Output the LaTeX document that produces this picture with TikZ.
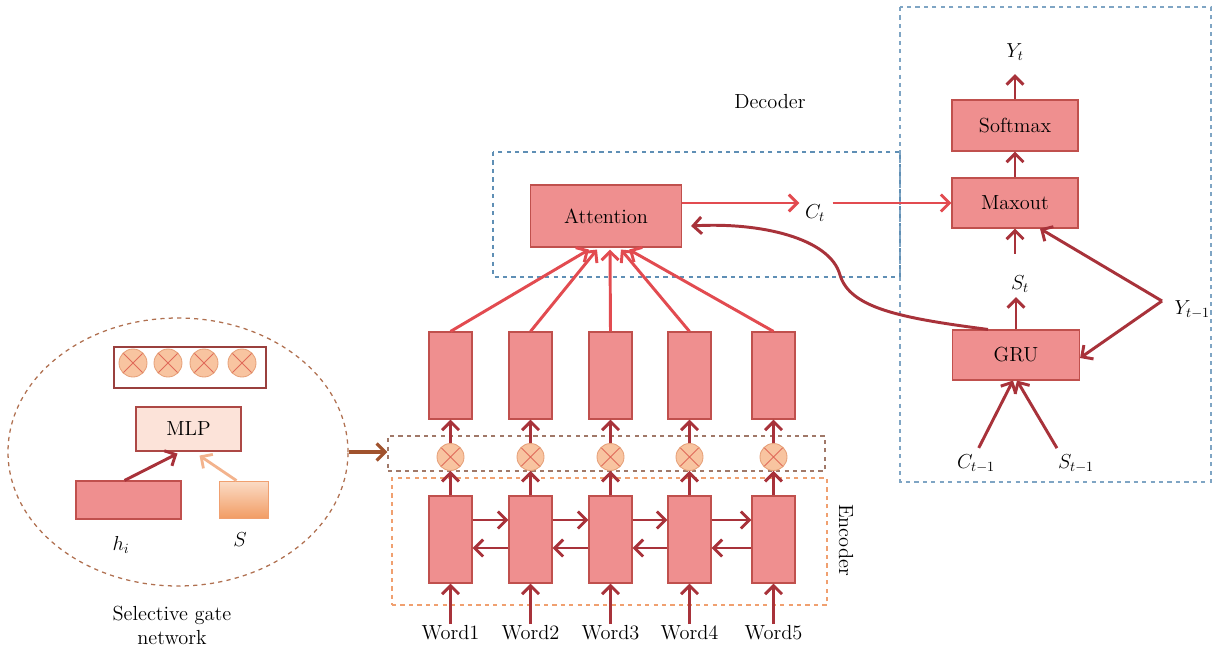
\documentclass[tikz,border=0pt]{standalone}
\usepackage{fontspec}
\usetikzlibrary{arrows.meta,calc,shapes.geometric}
\definecolor{boxfill}{HTML}{EF8F8F}
\definecolor{boxedge}{HTML}{C0504D}
\definecolor{darkarr}{HTML}{A8323A}
\definecolor{redarr}{HTML}{E24B50}
\definecolor{gatefill}{HTML}{F8C4A0}
\definecolor{gateedge}{HTML}{E6A078}
\definecolor{gatecross}{HTML}{E06A5A}
\definecolor{decdash}{HTML}{5F8FB5}
\definecolor{encdash}{HTML}{F0A070}
\definecolor{gatedash}{HTML}{A07868}
\definecolor{elldash}{HTML}{B07050}
\definecolor{mlpfill}{HTML}{FCE3D9}
\definecolor{brownarr}{HTML}{A0522D}
\begin{document}
\begin{tikzpicture}[x=0.025cm,y=-0.025cm,
  font=\fontsize{14.5}{17}\selectfont,
  cell/.style={draw=boxedge,fill=boxfill,line width=0.8pt,inner sep=0pt},
  gate/.style={circle,draw=gateedge,fill=gatefill,line width=0.6pt,minimum size=27*0.025cm,inner sep=0pt,
    path picture={\draw[gatecross,line width=0.7pt]
      (path picture bounding box.north west) -- (path picture bounding box.south east)
      (path picture bounding box.north east) -- (path picture bounding box.south west);}},
  tip/.style={-{Straight Barb[length=6pt,width=12pt]}},
  darr/.style={tip,draw=darkarr,line width=2.1pt},
  rarr/.style={tip,draw=redarr,line width=2.1pt},
  lbl/.style={inner sep=1pt},
  frame/.style={dashed,line width=1pt,inner sep=0pt}]
\useasboundingbox (0,0) rectangle (1213,654);

% dashed frames
\draw[decdash,dashed,line width=0.9pt] (493,152) rectangle (900,277);
\draw[decdash!80,dashed,line width=0.9pt] (900,7) rectangle (1211,482);
\node[frame,draw=gatedash,minimum width=437*0.025cm,minimum height=35*0.025cm] (gframe) at (606.5,453.5) {};
\node[frame,draw=encdash,minimum width=435*0.025cm,minimum height=127*0.025cm] (eframe) at (609.5,541.5) {};
\node[lbl] (declbl) at (770,102) {Decoder};
\node[lbl,rotate=-90] (enclbl) at (846,540) {Encoder};

% encoder columns
\foreach \i/\x in {1/450.5,2/530.5,3/610.5,4/689.5,5/773.5}{
  \node[cell,minimum width=43*0.025cm,minimum height=87*0.025cm] (t\i) at (\x,375.5) {};
  \node[cell,minimum width=43*0.025cm,minimum height=87*0.025cm] (b\i) at (\x,539.5) {};
  \node[gate] (g\i) at (\x,457) {};
  \node[lbl] (w\i) at (\x,633) {Word\i};
  \draw[darr] (w\i.north) -- (b\i.south);
  \draw[darr] (b\i.north) -- (g\i.south);
  \draw[darr] (g\i.north) -- (t\i.south);
}
\foreach \a/\b in {1/2,2/3,3/4,4/5}{
  \draw[darr] ($(b\a.east)+(0,-19.5)$) -- ($(b\b.west)+(0,-19.5)$);
  \draw[darr] ($(b\b.west)+(0,8.5)$) -- ($(b\a.east)+(0,8.5)$);
}

% decoder blocks
\node[cell,minimum width=151*0.025cm,minimum height=62*0.025cm] (att) at (606,216) {Attention};
\node[cell,minimum width=126*0.025cm,minimum height=50*0.025cm] (maxout) at (1015,203) {Maxout};
\node[cell,minimum width=126*0.025cm,minimum height=51*0.025cm] (softmax) at (1015,125.5) {Softmax};
\node[cell,minimum width=127*0.025cm,minimum height=50*0.025cm] (gru) at (1016,355) {GRU};

\node[lbl] (ct) at (815,213) {$C_t$};
\node[lbl] (yt) at (1015,52) {$Y_t$};
\node[lbl] (st) at (1020,284) {$S_t$};
\node[lbl,anchor=west] (ytm) at (1173,310) {$Y_{t-1}$};
\node[lbl] (ctm) at (976,464) {$C_{t-1}$};
\node[lbl] (stm) at (1076,464) {$S_{t-1}$};
\coordinate (yj) at ($(ytm.west)+(-11,-9)$);

% encoder states into attention
\draw[rarr] (t1.north) -- ($(att.south)+(-17,2)$);
\draw[rarr] (t2.north) -- ($(att.south)+(-9,2)$);
\draw[rarr] (t3.north) -- ($(att.south)+(4,2)$);
\draw[rarr] (t4.north) -- ($(att.south)+(15,2)$);
\draw[rarr] (t5.north) -- ($(att.south)+(23,2)$);

% context vector
\draw[rarr] (att.east |- maxout.west) -- ($(ct.west |- maxout.west)+(-4,0)$);
\draw[rarr] ($(ct.east |- maxout.west)+(6,0)$) -- (maxout.west);

% decoder stack
\draw[darr] (maxout.north) -- (softmax.south);
\draw[darr,shorten >=12*0.025cm] (softmax.north) -- (yt.south);
\draw[darr,shorten <=20*0.025cm] (st.north -| maxout.south) -- (maxout.south);
\draw[darr,shorten >=3*0.025cm] (gru.north) -- (st.south -| gru.north);
\draw[darr] (yj) -- ($(maxout.south)+(25,0)$);
\draw[darr] (yj) -- ($(gru.east)+(0,3)$);
\draw[darr,shorten <=6*0.025cm] (ctm.north) -- ($(gru.south)+(-3,0)$);
\draw[darr,shorten <=6*0.025cm] ($(stm.north)+(-16,0)$) -- ($(gru.south)+(1,0)$);

% decoder state fed back to attention
\draw[darr] ($(gru.north west)+(36,0)$) .. controls (900,318) and (850,308) .. (840,275)
  .. controls (830,238) and (760,222) .. ($(att.east)+(9,10)$);

% selective gate network
\node[ellipse,draw=elldash,dashed,line width=0.9pt,minimum width=340*0.025cm,minimum height=268*0.025cm] (sgn) at (178,452) {};
\node[draw=boxedge!80!black,line width=1pt,minimum width=152*0.025cm,minimum height=41*0.025cm,inner sep=0pt] (gbox) at (190,367.5) {};
\foreach \j/\x in {1/133,2/168,3/204,4/242}{
  \node[gate,minimum size=28*0.025cm] (sg\j) at (\x,363) {};
}
\node[draw=boxedge!90!black,fill=mlpfill,line width=0.8pt,minimum width=105*0.025cm,minimum height=44*0.025cm,inner sep=0pt] (mlp) at (188.5,429) {MLP};
\node[cell,minimum width=105*0.025cm,minimum height=38*0.025cm] (hbox) at (128.5,500) {};
\node[draw=encdash,line width=0.6pt,top color=gatefill!60,bottom color=encdash!90!orange,minimum width=49*0.025cm,minimum height=37*0.025cm,inner sep=0pt] (sbox) at (243.5,499.5) {};
\draw[darr] ($(hbox.north)+(-4,0)$) -- ($(mlp.south)+(-11,2)$);
\draw[tip,draw=encdash!80,line width=2pt] ($(sbox.north)+(-7,0)$) -- ($(mlp.south)+(11,4)$);
\node[lbl] (hi) at (121,545) {$h_i$};
\node[lbl] (slbl) at (240,540) {$S$};
\node[lbl,align=center] (sgcap) at (172,625) {Selective gate\\network};
\draw[brownarr,line width=2.2pt,-{Straight Barb[length=6pt,width=12pt]}] (sgn.east) -- (sgn.east -| gframe.west);
\end{tikzpicture}
\end{document}
